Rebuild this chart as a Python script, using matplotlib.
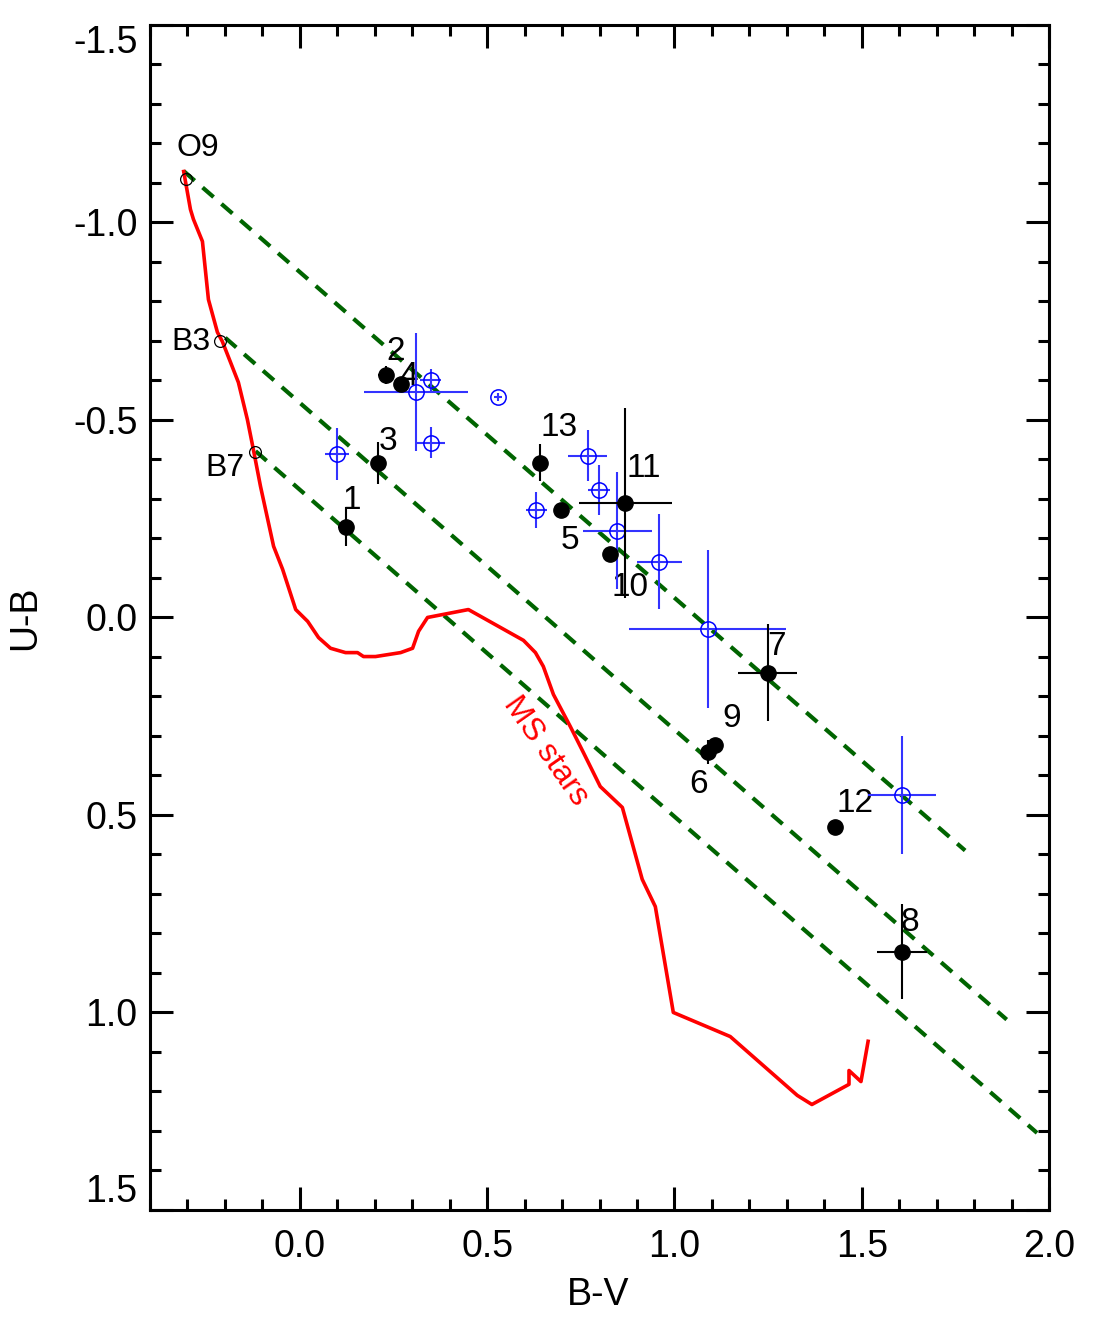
import matplotlib
matplotlib.use('Agg')
from matplotlib import pyplot as plt
from matplotlib.ticker import MultipleLocator, FuncFormatter
import numpy as np

plt.rcParams['font.family'] = ['Liberation Sans', 'DejaVu Sans']

# intrinsic main sequence (B-V, U-B)
ms_bv = [-0.310, -0.292, -0.284, -0.260, -0.244, -0.220, -0.207, -0.185, -0.164,
         -0.140, -0.124, -0.105, -0.070, -0.046, -0.011, 0.021, 0.050, 0.082,
         0.122, 0.154, 0.170, 0.202, 0.269, 0.301, 0.317, 0.341, 0.450, 0.597,
         0.629, 0.650, 0.677, 0.722, 0.757, 0.802, 0.861, 0.914, 0.949, 0.997,
         1.149, 1.328, 1.367, 1.466, 1.466, 1.498, 1.517]
ms_ub = [-1.129, -1.033, -1.008, -0.952, -0.805, -0.722, -0.699, -0.646, -0.595,
         -0.501, -0.425, -0.332, -0.180, -0.122, -0.020, 0.010, 0.051, 0.078,
         0.089, 0.089, 0.099, 0.099, 0.089, 0.078, 0.035, 0.000, -0.020, 0.058,
         0.089, 0.124, 0.195, 0.276, 0.342, 0.428, 0.481, 0.663, 0.732, 1.000,
         1.061, 1.210, 1.233, 1.182, 1.147, 1.175, 1.073]

# spectral type anchors
sp_names = ['O9', 'B3', 'B7']
sp_bv = [-0.305, -0.212, -0.121]
sp_ub = [-1.111, -0.701, -0.420]

# reddening lines
red_bv0 = [-0.310, -0.199, -0.118]
red_ub0 = [-1.130, -0.708, -0.421]
red_bv1 = [1.776, 1.887, 1.968]
red_ub1 = [0.590, 1.018, 1.305]

# numbered stars
star_id = ['1', '2', '4', '3', '13', '11', '5', '10', '7', '9', '6', '12', '8']
star_bv = [0.123, 0.229, 0.269, 0.209, 0.640, 0.869, 0.698, 0.829, 1.249, 1.109, 1.090, 1.429, 1.607]
star_ub = [-0.230, -0.613, -0.590, -0.392, -0.392, -0.290, -0.271, -0.161, 0.140, 0.322, 0.341, 0.530, 0.846]
star_bv_err = [0.022, 0.020, 0.010, 0.020, 0.010, 0.125, 0.010, 0.010, 0.078, 0.010, 0.010, 0.010, 0.067]
star_ub_err = [0.050, 0.023, 0.010, 0.053, 0.046, 0.240, 0.010, 0.010, 0.123, 0.010, 0.030, 0.010, 0.120]
# label offsets (points)
star_dx = [4, 7, 6, 7, 14, 13, 6, 14, 6, 12, -7, 14, 6]
star_dy = [19, 17, 6, 15, 25, 25, -22, -24, 19, 19, -23, 17, 21]

# other stars
oth_bv = [0.100, 0.309, 0.349, 0.529, 0.349, 0.631, 0.769, 0.799, 0.847, 0.960, 1.089, 1.607]
oth_ub = [-0.413, -0.571, -0.601, -0.559, -0.442, -0.272, -0.410, -0.322, -0.220, -0.141, 0.029, 0.450]
oth_bv_err = [0.032, 0.139, 0.028, 0.010, 0.039, 0.028, 0.052, 0.029, 0.092, 0.061, 0.210, 0.091]
oth_ub_err = [0.066, 0.150, 0.028, 0.010, 0.039, 0.046, 0.065, 0.063, 0.149, 0.120, 0.200, 0.149]

fig = plt.figure(figsize=(10.98, 13.27), dpi=100)
ax = fig.add_axes([0.1366, 0.0882, 0.8188, 0.8930])

ax.plot(ms_bv, ms_ub, color='red', lw=2.6, zorder=3)
ax.text(0.656, 0.339, 'MS stars', color='red', fontsize=23, rotation=-55,
        ha='center', va='center')

for i in range(3):
    ax.plot([red_bv0[i], red_bv1[i]], [red_ub0[i], red_ub1[i]], color='#006400',
            lw=3, ls=(0, (3.5, 2.5)), zorder=2)

ax.plot(sp_bv, sp_ub, 'o', mfc='none', mec='black', ms=8.5, mew=0.9, zorder=4)
sp_off = [(9, 22), (-21, -1), (-21, -12)]
for n, x, y, off in zip(sp_names, sp_bv, sp_ub, sp_off):
    ax.annotate(n, (x, y), xytext=off, textcoords='offset points',
                ha='center', va='center', fontsize=23)

ax.errorbar(oth_bv, oth_ub, xerr=oth_bv_err, yerr=oth_ub_err, fmt='o',
            mfc='none', mec='blue', ms=11, mew=1.1, ecolor='#3333ff',
            elinewidth=1.5, capsize=0, zorder=5)

ax.errorbar(star_bv, star_ub, xerr=star_bv_err, yerr=star_ub_err, fmt='o',
            color='black', ms=11, ecolor='black', elinewidth=1.5, capsize=0,
            zorder=6)
for n, x, y, dx, dy in zip(star_id, star_bv, star_ub, star_dx, star_dy):
    ax.annotate(n, (x, y), xytext=(dx, dy), textcoords='offset points',
                ha='center', va='center', fontsize=24)

ax.set_xlim(-0.4, 2.0)
ax.set_ylim(1.5, -1.5)
ax.xaxis.set_major_locator(MultipleLocator(0.5))
ax.xaxis.set_minor_locator(MultipleLocator(0.1))
ax.yaxis.set_major_locator(MultipleLocator(0.5))
ax.yaxis.set_minor_locator(MultipleLocator(0.1))
ax.xaxis.set_major_formatter(FuncFormatter(lambda v, p: f'{v:.1f}'))
ax.yaxis.set_major_formatter(FuncFormatter(lambda v, p: f'{v:.1f}'))

ax.tick_params(which='both', direction='in', top=True, right=True, width=2.2)
ax.tick_params(which='major', length=16.5, labelsize=27)
ax.tick_params(which='minor', length=8)
ax.tick_params(axis='x', which='major', pad=14)
ax.tick_params(axis='y', which='major', pad=9)
for s in ax.spines.values():
    s.set_linewidth(2.2)

ax.set_xlabel('B-V', fontsize=27, va='center')
ax.set_ylabel('U-B', fontsize=27, va='center')
ax.xaxis.set_label_coords(0.498, -0.0717)
ax.yaxis.set_label_coords(-0.139, 0.5)

# end labels on the y axis sit inside the frame, as in IDL plots
fig.canvas.draw()
yticks = [t for t in ax.yaxis.get_major_ticks()
          if -1.5 - 1e-6 <= t.get_loc() <= 1.5 + 1e-6]
for t in yticks:
    if abs(t.get_loc() + 1.5) < 1e-6:
        t.label1.set_va('top')
    elif abs(t.get_loc() - 1.5) < 1e-6:
        t.label1.set_va('bottom')

fig.savefig('out.png', dpi=100)
